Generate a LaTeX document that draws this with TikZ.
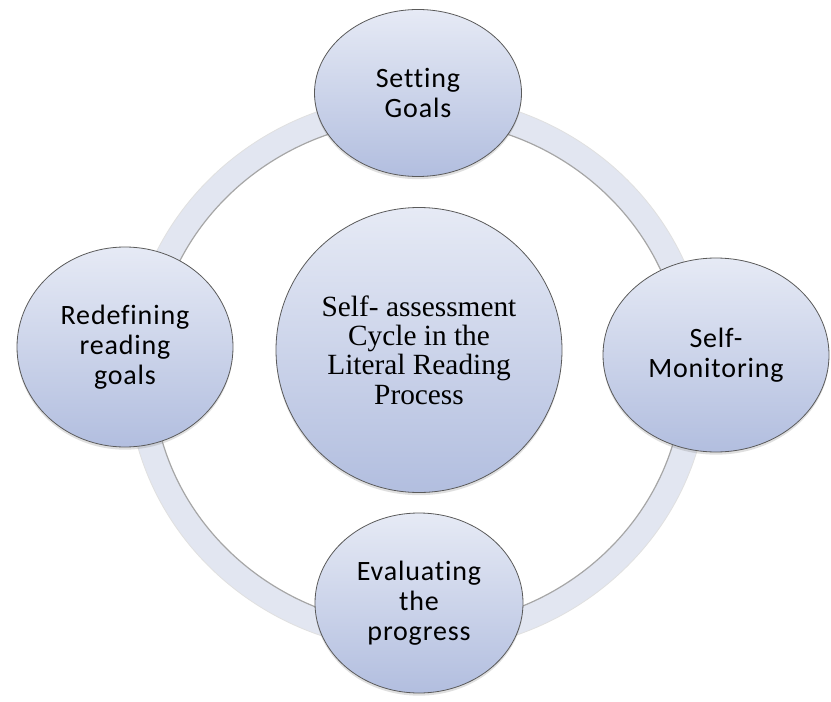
\documentclass[tikz,border=0pt]{standalone}
\usepackage{fontspec}
\setmainfont{Liberation Serif}
\newfontfamily\satfont[Ligatures={NoCommon}, LetterSpace=3]{Carlito}
\usetikzlibrary{shapes.geometric,shadows}
\definecolor{ringfill}{HTML}{E2E6F1}
\definecolor{topfill}{HTML}{E6EAF5}
\definecolor{botfill}{HTML}{B2BEDF}
\definecolor{edgecol}{HTML}{5A5A5A}
\tikzset{
  bubble/.style={ellipse, draw=edgecol, line width=0.6pt, inner sep=0pt, outer sep=0pt,
    top color=topfill, bottom color=botfill, align=center,
    drop shadow={opacity=0.25, shadow xshift=0pt, shadow yshift=-2pt}},
  satellite/.style={bubble, font=\satfont\fontsize{21pt}{22.5pt}\selectfont},
  hub/.style={bubble, font=\fontsize{22pt}{22pt}\selectfont}
}
\begin{document}
\begin{tikzpicture}[x=0.75pt,y=-0.75pt]
\useasboundingbox (0,0) rectangle (831,702);
\fill[white] (0,0) rectangle (831,702);
% ring
\coordinate (rc) at (418,373);
\draw[ringfill, line width=18.75pt] (rc) ellipse [x radius=278, y radius=266];
\draw[black!35, line width=0.9pt] (rc) ellipse [x radius=265.5, y radius=253.5];
\draw[black!12, line width=0.6pt] (rc) ellipse [x radius=290.5, y radius=278.5];
% centre
\node[hub, minimum width=214.5pt, minimum height=213.75pt] (hubnode) at (419,350)
  {Self- assessment\\Cycle in the\\Literal Reading\\Process};
% satellites
\node[satellite, minimum width=155.25pt, minimum height=125.25pt] (goals) at (418,93)
  {Setting\\Goals};
\node[satellite, minimum width=169.5pt, minimum height=145.5pt] (monitor) at (716,355)
  {Self-\\Monitoring};
\node[satellite, minimum width=156pt, minimum height=135pt] (evaluate) at (419,603)
  {Evaluating\\the\\progress};
\node[satellite, minimum width=162pt, minimum height=150pt] (redefine) at (125,347)
  {Redefining\\reading\\goals};
\end{tikzpicture}
\end{document}
